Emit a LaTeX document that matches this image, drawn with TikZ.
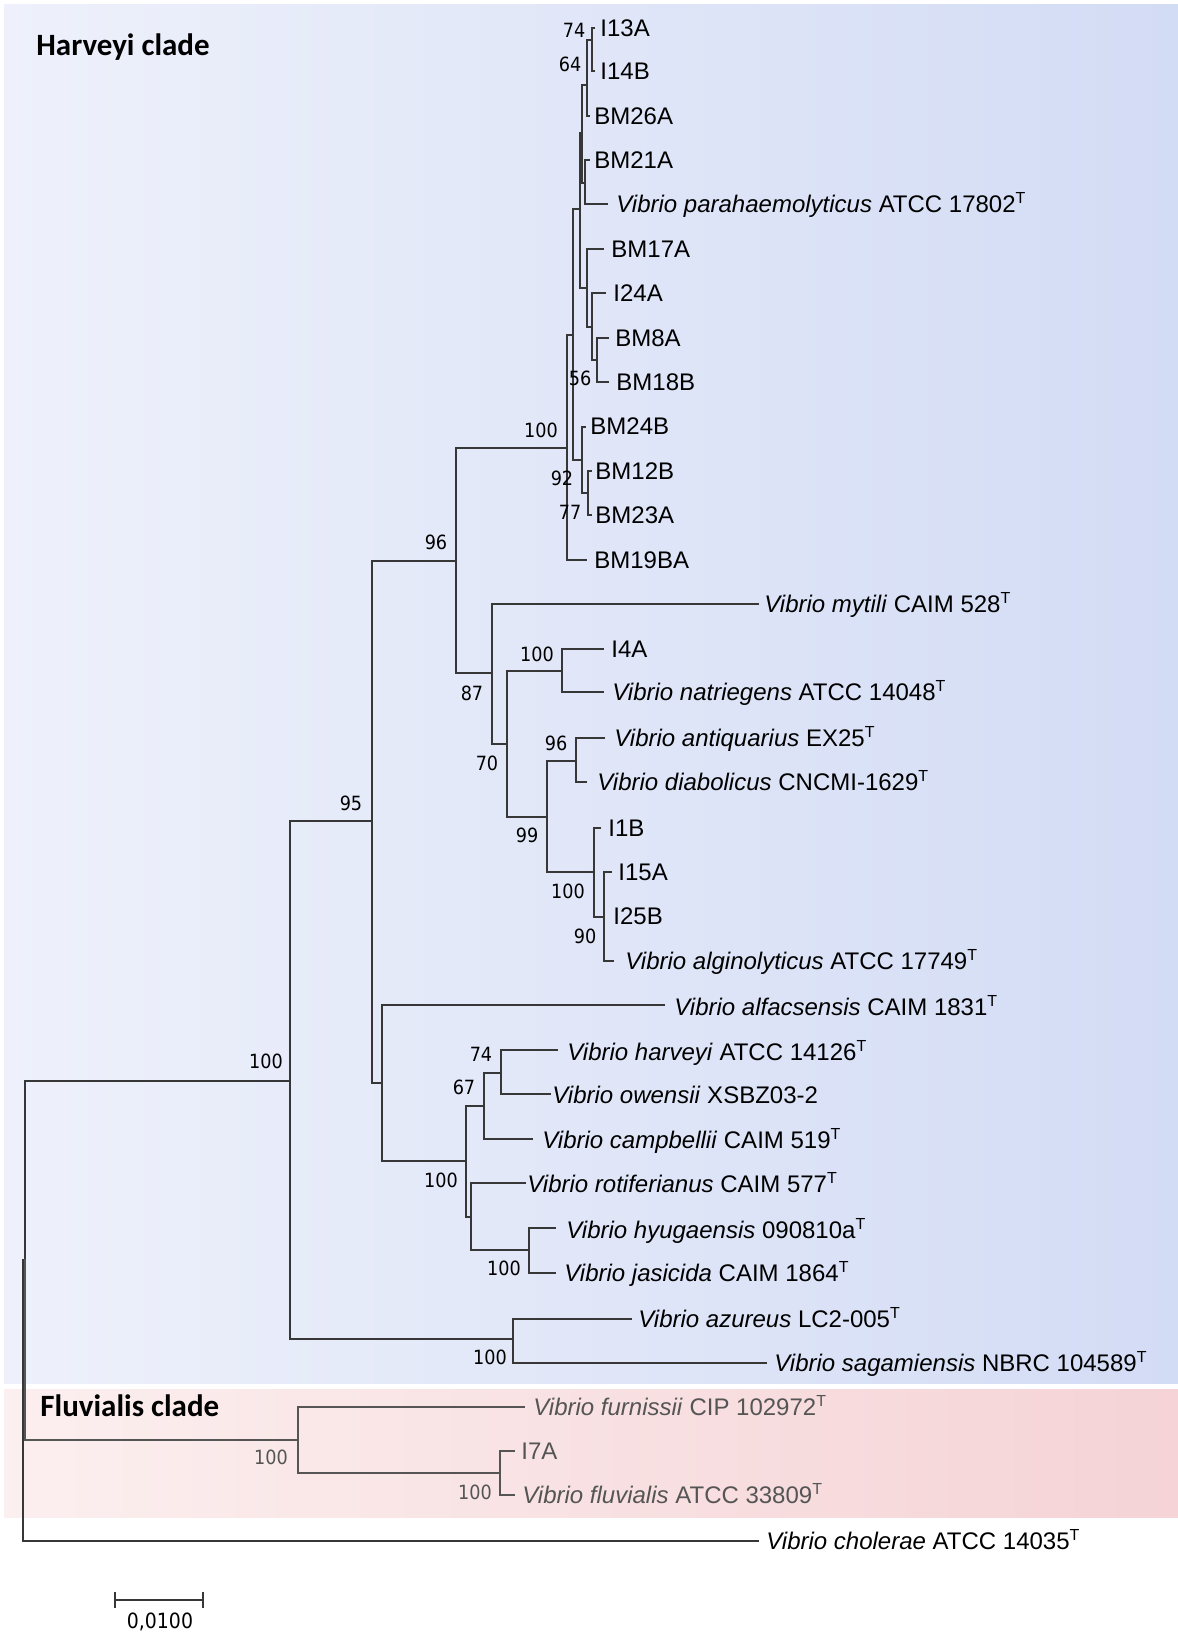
\documentclass[tikz,border=0pt]{standalone}
\usepackage{fontspec}
\setmainfont{Liberation Sans}
\newfontfamily\bsfont{DejaVu Sans Condensed}
\newfontfamily\cladefont{Carlito}
\definecolor{hvL}{RGB}{238,241,251}
\definecolor{hvR}{RGB}{211,220,245}
\definecolor{flL}{RGB}{252,239,239}
\definecolor{flR}{RGB}{245,211,214}
\definecolor{brc}{RGB}{55,55,55}
\definecolor{flc}{RGB}{85,85,85}
\begin{document}
\begin{tikzpicture}[x=0.5pt,y=-0.5pt,
  br/.style={draw=brc, line width=0.7pt, line cap=rect},
  fbr/.style={draw=flc, line width=0.7pt, line cap=rect},
  leaf/.style={anchor=west, inner sep=0pt, text=black, font=\fontsize{12}{14}\selectfont, text height=8.6pt, text depth=0pt},
  fleaf/.style={leaf, text=flc},
  bs/.style={inner sep=0pt, text=black, font=\bsfont\fontsize{9.8}{11}\selectfont, text height=7.1pt, text depth=0pt},
  fbs/.style={bs, text=flc},
  clade/.style={inner sep=0pt, anchor=base west, font=\cladefont\bfseries\fontsize{15.5}{18}\selectfont}]
\fill[white] (0,0) rectangle (1178,1634);
\useasboundingbox (0,0) rectangle (1178,1634);
\shade[left color=hvL, right color=hvR] (4,4) rectangle (1178,1383);
\shade[left color=flL, right color=flR] (4,1389) rectangle (1178,1517);

% internal nodes
\coordinate (R) at (23,1400);
\coordinate (IN) at (25,1260);
\coordinate (H) at (290,1081);
\coordinate (FL) at (298,1440);
\coordinate (N95) at (372,821);
\coordinate (AZ) at (513,1339);
\coordinate (N96) at (456,561);
\coordinate (J) at (382,1083);
\coordinate (T100) at (567,448);
\coordinate (A) at (573,335);
\coordinate (B) at (580,209);
\coordinate (C) at (582,133);
\coordinate (N64) at (587,85);
\coordinate (N74) at (592,40);
\coordinate (F) at (585,183);
\coordinate (G) at (587,288);
\coordinate (Hn) at (592,327);
\coordinate (In) at (597,360);
\coordinate (N92) at (582,460);
\coordinate (N77) at (588,493);
\coordinate (N87) at (492,673);
\coordinate (N70) at (507,744);
\coordinate (Na) at (562,671);
\coordinate (N99) at (547,817);
\coordinate (Nb) at (576,761);
\coordinate (Nc) at (594,872);
\coordinate (N90) at (604,917);
\coordinate (K) at (466,1161);
\coordinate (N67) at (484,1106);
\coordinate (N74b) at (501,1073);
\coordinate (L) at (471,1217);
\coordinate (M) at (529,1250);
\coordinate (FN) at (500,1473);

% leaf tips
\coordinate (tI13A) at (594,28);
\coordinate (tI14B) at (594,71);
\coordinate (tBM26A) at (589,116);
\coordinate (tBM21A) at (589,160);
\coordinate (tpara) at (607,204);
\coordinate (tBM17A) at (603,249);
\coordinate (tI24A) at (605,293);
\coordinate (tBM8A) at (608,338);
\coordinate (tBM18B) at (608,382);
\coordinate (tBM24B) at (585,427);
\coordinate (tBM12B) at (591,471);
\coordinate (tBM23A) at (591,515);
\coordinate (tBM19BA) at (586,560);
\coordinate (tmyt) at (758,604);
\coordinate (tI4A) at (603,649);
\coordinate (tnat) at (603,692);
\coordinate (tant) at (604,738);
\coordinate (tdia) at (586,782);
\coordinate (tI1B) at (600,828);
\coordinate (tI15A) at (611,872);
\coordinate (talg) at (613,961);
\coordinate (talf) at (664,1005);
\coordinate (thar) at (557,1050);
\coordinate (towe) at (550,1094);
\coordinate (tcam) at (532,1139);
\coordinate (trot) at (525,1183);
\coordinate (thyu) at (555,1228);
\coordinate (tjas) at (555,1273);
\coordinate (tazu) at (631,1319);
\coordinate (tsag) at (766,1363);
\coordinate (tfur) at (524,1407);
\coordinate (tI7A) at (514,1451);
\coordinate (tflu) at (514,1495);
\coordinate (tcho) at (758,1541);

% branches
\foreach \p/\c in {R/IN, R/tcho, IN/H, H/N95, H/AZ, N95/N96, N95/J, N96/T100, N96/N87,
  T100/A, T100/tBM19BA, A/B, A/N92, B/C, B/G, C/N64, C/F, N64/N74, N64/tBM26A,
  N74/tI13A, N74/tI14B, F/tBM21A, F/tpara, G/tBM17A, G/Hn, Hn/tI24A, Hn/In,
  In/tBM8A, In/tBM18B, N92/tBM24B, N92/N77, N77/tBM12B, N77/tBM23A,
  N87/tmyt, N87/N70, N70/Na, N70/N99, Na/tI4A, Na/tnat, N99/Nb, N99/Nc,
  Nb/tant, Nb/tdia, Nc/tI1B, Nc/N90, N90/tI15A, N90/talg,
  J/talf, J/K, K/N67, K/L, N67/N74b, N67/tcam, N74b/thar, N74b/towe,
  L/trot, L/M, M/thyu, M/tjas, AZ/tazu, AZ/tsag}
  \draw[br] (\p) |- (\c);
\foreach \p/\c in {IN/FL, FL/tfur, FL/FN, FN/tI7A, FN/tflu}
  \draw[fbr] (\p) |- (\c);

% leaf labels
\node[leaf] (lI13A) at (600,28) {I13A};
\node[leaf] (lI14B) at (600,71) {I14B};
\node[leaf] (lBM26A) at (594,116) {BM26A};
\node[leaf] (lBM21A) at (594,160) {BM21A};
\node[leaf] (lpara) at (616,204) {\textit{Vibrio parahaemolyticus} ATCC 17802\textsuperscript{T}};
\node[leaf] (lBM17A) at (611,249) {BM17A};
\node[leaf] (lI24A) at (613,293) {I24A};
\node[leaf] (lBM8A) at (615,338) {BM8A};
\node[leaf] (lBM18B) at (616,382) {BM18B};
\node[leaf] (lBM24B) at (590,426) {BM24B};
\node[leaf] (lBM12B) at (595,471) {BM12B};
\node[leaf] (lBM23A) at (595,515) {BM23A};
\node[leaf] (lBM19BA) at (594,560) {BM19BA};
\node[leaf] (lmyt) at (764,604) {\textit{Vibrio mytili} CAIM 528\textsuperscript{T}};
\node[leaf] (lI4A) at (611,649) {I4A};
\node[leaf] (lnat) at (612,692) {\textit{Vibrio natriegens} ATCC 14048\textsuperscript{T}};
\node[leaf] (lant) at (614,738) {\textit{Vibrio antiquarius} EX25\textsuperscript{T}};
\node[leaf] (ldia) at (597,782) {\textit{Vibrio diabolicus} CNCMI-1629\textsuperscript{T}};
\node[leaf] (lI1B) at (608,828) {I1B};
\node[leaf] (lI15A) at (618,872) {I15A};
\node[leaf] (lI25B) at (613,916) {I25B};
\node[leaf] (lalg) at (625,961) {\textit{Vibrio alginolyticus} ATCC 17749\textsuperscript{T}};
\node[leaf] (lalf) at (674,1007) {\textit{Vibrio alfacsensis} CAIM 1831\textsuperscript{T}};
\node[leaf] (lhar) at (567,1052) {\textit{Vibrio harveyi} ATCC 14126\textsuperscript{T}};
\node[leaf] (lowe) at (552,1095) {\textit{Vibrio owensii} XSBZ03-2};
\node[leaf] (lcam) at (542,1140) {\textit{Vibrio campbellii} CAIM 519\textsuperscript{T}};
\node[leaf] (lrot) at (527,1184) {\textit{Vibrio rotiferianus} CAIM 577\textsuperscript{T}};
\node[leaf] (lhyu) at (566,1230) {\textit{Vibrio hyugaensis} 090810a\textsuperscript{T}};
\node[leaf] (ljas) at (564,1273) {\textit{Vibrio jasicida} CAIM 1864\textsuperscript{T}};
\node[leaf] (lazu) at (638,1319) {\textit{Vibrio azureus} LC2-005\textsuperscript{T}};
\node[leaf] (lsag) at (774,1363) {\textit{Vibrio sagamiensis} NBRC 104589\textsuperscript{T}};
\node[fleaf] (lfur) at (533,1407) {\textit{Vibrio furnissii} CIP 102972\textsuperscript{T}};
\node[fleaf] (lI7A) at (521,1451) {I7A};
\node[fleaf] (lflu) at (522,1495) {\textit{Vibrio fluvialis} ATCC 33809\textsuperscript{T}};
\node[leaf] (lcho) at (766,1541) {\textit{Vibrio cholerae} ATCC 14035\textsuperscript{T}};

% bootstrap values
\node[bs] (b1) at (574,30) {74};
\node[bs] (b2) at (570,64) {64};
\node[bs] (b3) at (580,378) {56};
\node[bs] (b4) at (541,430) {100};
\node[bs] (b5) at (562,478) {92};
\node[bs] (b6) at (570,512) {77};
\node[bs] (b7) at (436,542) {96};
\node[bs] (b8) at (472,693) {87};
\node[bs] (b9) at (487,763) {70};
\node[bs] (b10) at (537,654) {100};
\node[bs] (b11) at (556,743) {96};
\node[bs] (b12) at (527,835) {99};
\node[bs] (b13) at (568,891) {100};
\node[bs] (b14) at (585,936) {90};
\node[bs] (b15) at (351,803) {95};
\node[bs] (b16) at (266,1061) {100};
\node[bs] (b17) at (481,1054) {74};
\node[bs] (b18) at (464,1087) {67};
\node[bs] (b19) at (441,1180) {100};
\node[bs] (b20) at (504,1268) {100};
\node[bs] (b21) at (490,1357) {100};
\node[fbs] (b22) at (271,1457) {100};
\node[fbs] (b23) at (475,1492) {100};

% clade titles
\node[clade] (hc) at (36,55) {Harveyi clade};
\node[clade] (fc) at (40,1416) {Fluvialis clade};

% scale bar
\coordinate (s1) at (115,1600);
\coordinate (s2) at (203,1600);
\draw[br] (s1) -- (s2);
\draw[br] (s1) ++(0,-7) -- ++(0,14);
\draw[br] (s2) ++(0,-7) -- ++(0,14);
\node[bs, font=\bsfont\fontsize{10.5}{12}\selectfont] (sl) at (160,1621) {0,0100};
\end{tikzpicture}
\end{document}
